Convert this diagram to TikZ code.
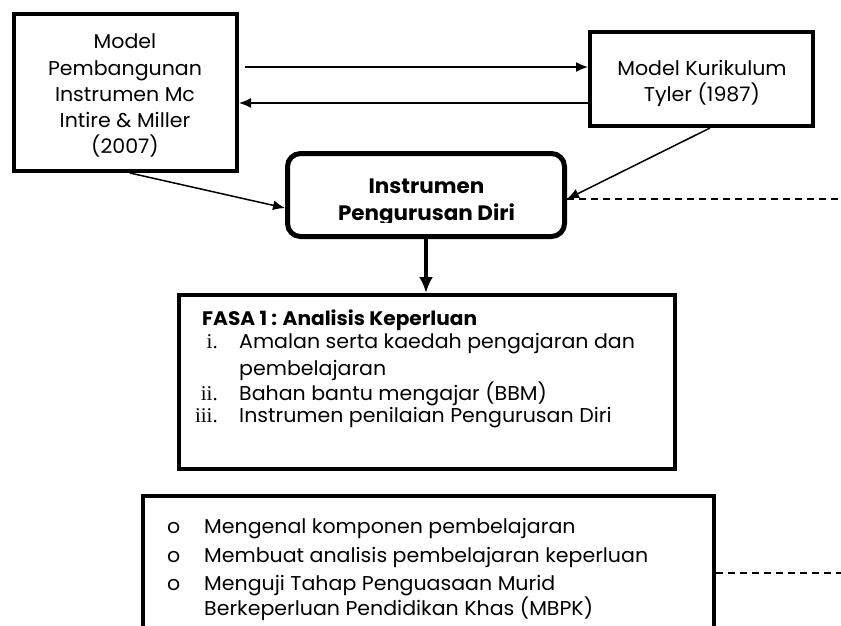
\documentclass[tikz,border=0pt]{standalone}
\usepackage{tikz}
\usepackage{fontspec}
\usetikzlibrary{arrows.meta}
% widen Poppins so that it runs as wide as the original text
\newfontfamily\probefont{Poppins}
\newlength\probelen
\settowidth\probelen{\probefont\fontsize{20}{24}\selectfont Membuat analisis pembelajaran keperluan}
\pgfmathsetmacro\stretchfac{444/\probelen}
\edef\setwidefont{\noexpand\setmainfont{Poppins}[FakeStretch=\stretchfac]}
\setwidefont
\newfontfamily\numfont{Liberation Serif}
\settowidth\probelen{\normalfont\fontsize{20}{24}\selectfont Pembangunan}
\pgfmathsetmacro\boxsize{20*154/\probelen}
\settowidth\probelen{\normalfont\bfseries\fontsize{20}{24}\selectfont Pengurusan Diri}
\pgfmathsetmacro\boldsize{20*177/\probelen}
\settowidth\probelen{\normalfont\bfseries\fontsize{20}{24}\selectfont FASA 1 : Analisis Keperluan}
\pgfmathsetmacro\titlesize{20*275/\probelen}
\tikzset{>=latex}
\tikzset{
  framebox/.style={draw,line width=4pt,inner sep=0pt},
  boxtxt/.style={inner sep=0pt,anchor=base,font=\fontsize{\boxsize}{24}\selectfont},
  txt/.style={inner sep=0pt,anchor=base west,font=\fontsize{20}{24}\selectfont},
  numtxt/.style={inner sep=0pt,anchor=base east,font=\numfont\fontsize{21}{24}\selectfont},
  link/.style={-{Latex[length=12pt,width=10pt]},line width=1.5pt},
  dashlink/.style={line width=1.5pt,dash pattern=on 7pt off 5pt}
}

\begin{document}
\begin{tikzpicture}[x=1pt,y=-1pt]
\clip (0,0) rectangle (841,625);
% kotak
\node [framebox,minimum width=223pt,minimum height=157pt] (mcintire) at (125.5,92.5) {};
\node [framebox,minimum width=223pt,minimum height=94pt] (tyler) at (701.5,79) {};
\node [framebox,line width=5pt,rounded corners=13pt,minimum width=277pt,minimum height=83pt] (instrumen) at (426,195) {};
\node [framebox,minimum width=496pt,minimum height=174pt] (fasa) at (427,382) {};
\node [framebox,minimum width=571pt,minimum height=159pt] (aktiviti) at (428.5,575.5) {};

% anak panah
\draw [link] ([shift={(6pt,25.5pt)}]mcintire.east) -- ([yshift=12pt]tyler.west);
\draw [link] ([yshift=-24pt]tyler.west) -- ([yshift=-10.5pt]mcintire.east);
\draw [link] ([xshift=4.5pt]mcintire.south) -- ([yshift=-13pt]instrumen.west);
\draw [link] ([xshift=8.5pt]tyler.south) -- ([yshift=-4pt]instrumen.east);
\draw [-{Latex[length=16pt,width=14pt]},line width=4.5pt] (instrumen.south) -- (instrumen.south |- fasa.north);
\coordinate (endtop) at (841,199);
\coordinate (endbottom) at (841,573);
\draw [dashlink] ([yshift=-4pt]instrumen.east) -- (endtop);
\draw [dashlink] ([yshift=2.5pt]aktiviti.east) -- (endbottom);

% teks kotak atas
\foreach \y/\t [count=\i] in {48.5/Model,75/Pembangunan,101/Instrumen Mc,127/Intire \& Miller,153/(2007)}
  \node [boxtxt] (mcintire\i) at (125,\y) {\t};
\node [boxtxt] (tyler1) at (702,75) {Model Kurikulum};
\node [boxtxt] (tyler2) at (702,101.5) {Tyler (1987)};
\begin{scope}
\clip (285,150) rectangle (567,222.5);
\node [boxtxt,font=\bfseries\fontsize{\boldsize}{24}\selectfont] (instrumen1) at (426.5,193) {Instrumen};
\node [boxtxt,font=\bfseries\fontsize{\boldsize}{24}\selectfont] (instrumen2) at (426.5,220) {Pengurusan Diri};
\end{scope}

% FASA 1
\node [txt,font=\bfseries\fontsize{\titlesize}{24}\selectfont] (fasatitle) at (202,325) {FASA 1 : Analisis Keperluan};
\node [numtxt] (num1) at (218,348) {i.};
\node [txt] (item1) at (239,348) {Amalan serta kaedah pengajaran dan};
\node [txt] (item1b) at (239,375) {pembelajaran};
\node [numtxt] (num2) at (218,400) {ii.};
\node [txt] (item2) at (239,400) {Bahan bantu mengajar (BBM)};
\node [numtxt] (num3) at (218,422) {iii.};
\node [txt] (item3) at (239,422) {Instrumen penilaian Pengurusan Diri};

% senarai aktiviti
\foreach \y/\t [count=\i] in {533/Mengenal komponen pembelajaran,
    562.5/Membuat analisis pembelajaran keperluan,
    590/Menguji Tahap Penguasaan Murid} {
  \node [txt] (bullet\i) at (167,\y) {o};
  \node [txt] (act\i) at (204,\y) {\t};
}
\node [txt] (act3b) at (204,615.5) {Berkeperluan Pendidikan Khas (MBPK)};
\end{tikzpicture}
\end{document}
